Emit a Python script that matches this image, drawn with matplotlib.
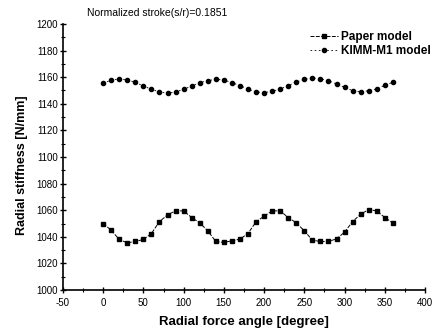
import matplotlib
matplotlib.use("Agg")
import matplotlib.pyplot as plt
from matplotlib.ticker import MultipleLocator

plt.rcParams['font.family'] = ['Liberation Sans', 'DejaVu Sans']
plt.rcParams['axes.unicode_minus'] = False

angles = list(range(0, 361, 10))
paper_model = [1050, 1045, 1038, 1035.5, 1036.5, 1038, 1042.5, 1051.5, 1056.5, 1059.5,
               1059.5, 1054.5, 1050.5, 1044.5, 1036.5, 1035.8, 1037, 1038.3, 1042.5, 1051.3,
               1055.5, 1059.5, 1059.5, 1054.5, 1050.5, 1044.5, 1037.5, 1036.5, 1036.5, 1038.5,
               1043.5, 1051.5, 1057, 1060.5, 1059.5, 1054.5, 1050.5]
kimm_model = [1155.4, 1157.9, 1158.6, 1157.9, 1156.2, 1153.4, 1150.9, 1148.9, 1147.9, 1148.9,
              1150.9, 1153.4, 1155.9, 1157.4, 1158.4, 1157.9, 1155.9, 1153.7, 1151.1, 1148.9,
              1148.4, 1149.4, 1151.1, 1153.7, 1156.4, 1158.4, 1159.4, 1158.9, 1157.4, 1154.9,
              1152.4, 1149.9, 1148.9, 1149.9, 1151.1, 1153.9, 1156.2]

fig = plt.figure(figsize=(4.4, 3.33), dpi=100)
ax = fig.add_axes([0.143, 0.129, 0.823, 0.799])

ax.plot(angles, paper_model, color='black', linestyle='--', dashes=(4, 1.5), linewidth=0.7,
        marker='s', markersize=3.4, label='Paper model')
ax.plot(angles, kimm_model, color='black', linestyle='--', dashes=(2, 3), linewidth=0.6,
        marker='o', markersize=3.0, label='KIMM-M1 model')

ax.set_xlim(-50, 400)
ax.set_ylim(1000, 1200)
ax.xaxis.set_major_locator(MultipleLocator(50))
ax.xaxis.set_minor_locator(MultipleLocator(25))
ax.yaxis.set_major_locator(MultipleLocator(20))
ax.yaxis.set_minor_locator(MultipleLocator(10))

for s in ['top', 'right']:
    ax.spines[s].set_visible(False)
for s in ['left', 'bottom']:
    ax.spines[s].set_linewidth(1.2)

ax.tick_params(which='major', direction='inout', length=5, width=1, labelsize=7, pad=1)
ax.tick_params(axis='x', which='major', pad=3)
ax.tick_params(which='minor', direction='inout', length=3, width=0.8)

ax.set_xlabel('Radial force angle [degree]', fontsize=9.5, fontweight='bold', labelpad=6)
ax.set_ylabel('Radial stiffness [N/mm]', fontsize=9, fontweight='bold', labelpad=4)
ax.yaxis.set_label_coords(-0.097, 0.47)

fig.text(0.197, 0.962, 'Normalized stroke(s/r)=0.1851', fontsize=7.5, ha='left', va='center')

ax.legend(loc='upper right', bbox_to_anchor=(1.03, 0.99), frameon=False,
          prop={'size': 8.5, 'weight': 'bold'}, handlelength=2.4, handletextpad=0.3,
          labelspacing=0.15, borderaxespad=0)

fig.savefig('out.png', dpi=100)
